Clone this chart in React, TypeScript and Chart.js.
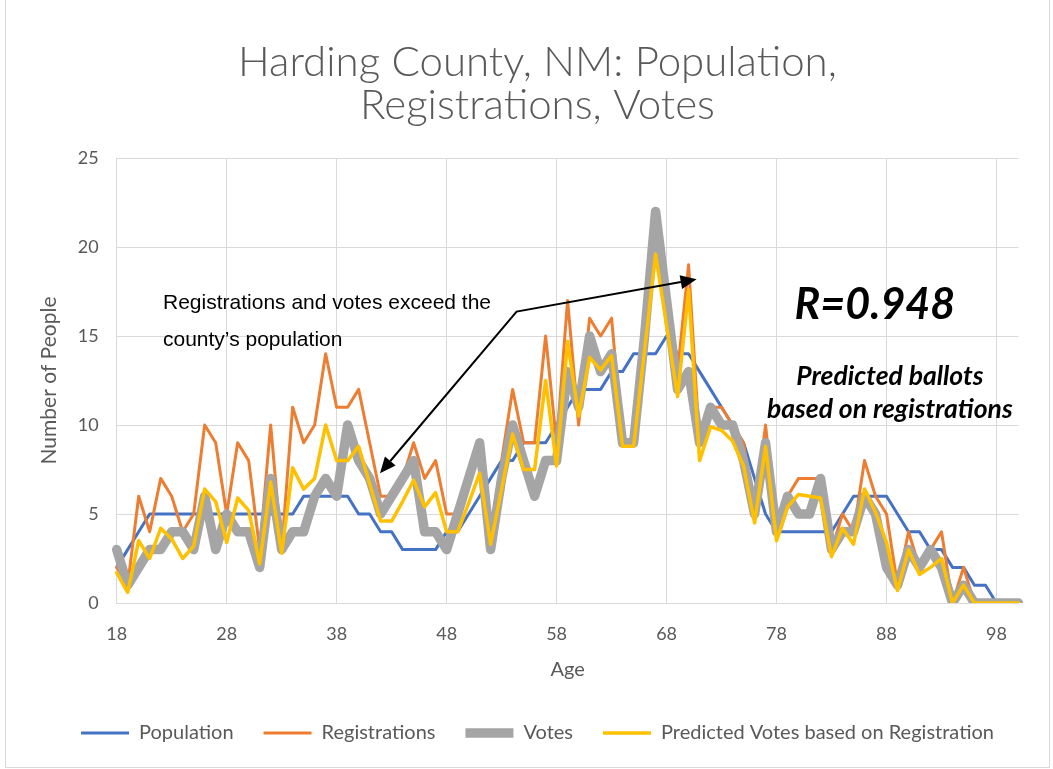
import React, { useEffect, useRef } from "react";
import { Chart, registerables } from "chart.js";

Chart.register(...registerables);

const ages = [
  "18", "19", "20", "21", "22", "23", "24", "25", "26", "27",
  "28", "29", "30", "31", "32", "33", "34", "35", "36", "37",
  "38", "39", "40", "41", "42", "43", "44", "45", "46", "47",
  "48", "49", "50", "51", "52", "53", "54", "55", "56", "57",
  "58", "59", "60", "61", "62", "63", "64", "65", "66", "67",
  "68", "69", "70", "71", "72", "73", "74", "75", "76", "77",
  "78", "79", "80", "81", "82", "83", "84", "85", "86", "87",
  "88", "89", "90", "91", "92", "93", "94", "95", "96", "97",
  "98", "99", "100",
];

const population = [
  2, 3, 4, 5, 5, 5, 5, 5, 5, 5,
  5, 5, 5, 5, 5, 5, 5, 6, 6, 6,
  6, 6, 5, 5, 4, 4, 3, 3, 3, 3,
  4, 4, 5, 6, 7, 8, 8, 9, 9, 9,
  10, 11, 12, 12, 12, 13, 13, 14, 14, 14,
  15, 14, 14, 13, 12, 11, 10, 9, 7, 5,
  4, 4, 4, 4, 4, 4, 5, 6, 6, 6,
  6, 5, 4, 4, 3, 3, 2, 2, 1, 1,
  0, 0, 0,
];

const registrations = [
  2, 1, 6, 4, 7, 6, 4, 5, 10, 9,
  5, 9, 8, 3, 10, 3, 11, 9, 10, 14,
  11, 11, 12, 9, 6, 6, 7, 9, 7, 8,
  5, 5, 7, 9, 4, 8, 12, 9, 9, 15,
  9, 17, 10, 16, 15, 16, 9, 9, 16, 22,
  18, 13, 19, 9, 11, 11, 10, 9, 5, 10,
  4, 6, 7, 7, 7, 3, 5, 4, 8, 6,
  5, 1, 4, 2, 3, 4, 0, 2, 0, 0,
  0, 0, 0,
];

const votes = [
  3, 1, 2, 3, 3, 4, 4, 3, 6, 3,
  5, 4, 4, 2, 7, 3, 4, 4, 6, 7,
  6, 10, 8, 7, 5, 6, 7, 8, 4, 4,
  3, 5, 7, 9, 3, 7, 10, 8, 6, 8,
  8, 13, 11, 15, 13, 14, 9, 9, 15, 22,
  17, 12, 13, 9, 11, 10, 10, 8, 5, 9,
  4, 6, 5, 5, 7, 3, 4, 4, 6, 5,
  2, 1, 3, 2, 3, 2, 0, 1, 0, 0,
  0, 0, 0,
];

const predicted = [
  1.7, 0.6, 3.5, 2.5, 4.2, 3.6, 2.5, 3.2, 6.4, 5.7,
  3.4, 5.9, 5.2, 2.2, 6.8, 2.8, 7.6, 6.4, 7.0, 10.0,
  8.0, 8.0, 8.8, 6.7, 4.6, 4.6, 5.7, 6.9, 5.4, 6.2,
  4.0, 4.0, 5.6, 7.3, 3.3, 6.4, 9.5, 7.5, 7.5, 12.5,
  7.7, 14.7, 10.5, 13.8, 13.1, 13.9, 8.8, 8.8, 14.2, 19.6,
  15.6, 11.6, 17.6, 8.0, 9.9, 9.7, 9.1, 7.7, 4.5, 8.8,
  3.5, 5.4, 6.1, 6.0, 5.9, 2.6, 4.2, 3.3, 6.4, 5.1,
  3.4, 0.7, 3.0, 1.6, 2.0, 2.5, 0, 1.0, 0, 0,
  0, 0, 0,
];

const titleLines = ["Harding County, NM: Population,", "Registrations, Votes"];
const noteLines = ["Registrations and votes exceed the", "county\u2019s population"];
const rText = "R=0.948";
const predictedNote = ["Predicted ballots", "based on registrations"];

const GREY_TEXT = "#595959";
const GRID = "#d9d9d9";

function drawArrowHead(ctx: CanvasRenderingContext2D, fx: number, fy: number, tx: number, ty: number) {
  const ang = Math.atan2(ty - fy, tx - fx);
  const len = 16;
  const hw = 7;
  const bx = tx - len * Math.cos(ang);
  const by = ty - len * Math.sin(ang);
  ctx.beginPath();
  ctx.moveTo(tx, ty);
  ctx.lineTo(bx + hw * Math.sin(ang), by - hw * Math.cos(ang));
  ctx.lineTo(bx - hw * Math.sin(ang), by + hw * Math.cos(ang));
  ctx.closePath();
  ctx.fill();
  return [bx, by];
}

const frameAndNotes = {
  id: "frameAndNotes",
  beforeDraw(chart: any) {
    const ctx = chart.ctx;
    ctx.save();
    ctx.fillStyle = "#ffffff";
    ctx.fillRect(0, 0, chart.width, chart.height);
    ctx.strokeStyle = GRID;
    ctx.lineWidth = 1;
    ctx.strokeRect(5.5, -5, 1044, 772.5);
    ctx.restore();
  },
  afterDatasetsDraw(chart: any) {
    const ctx = chart.ctx;
    const xs = chart.scales.x;
    const ys = chart.scales.y;
    const px = (i: number) => xs.getPixelForValue(i);
    const py = (v: number) => ys.getPixelForValue(v);
    ctx.save();

    // annotation text
    ctx.fillStyle = "#000000";
    ctx.font = "21px 'Liberation Sans', Arial, sans-serif";
    ctx.textAlign = "left";
    ctx.textBaseline = "middle";
    ctx.fillText(noteLines[0], px(4.21), py(16.85));
    ctx.fillText(noteLines[1], px(4.21), py(14.75));

    // double-headed arrow
    const a = [px(23.94), py(7.29)];
    const e = [px(36.36), py(16.37)];
    const b = [px(52.73), py(18.19)];
    ctx.strokeStyle = "#000000";
    ctx.fillStyle = "#000000";
    ctx.lineWidth = 2;
    const baseA = drawArrowHead(ctx, e[0], e[1], a[0], a[1]);
    const baseB = drawArrowHead(ctx, e[0], e[1], b[0], b[1]);
    ctx.beginPath();
    ctx.moveTo(baseA[0], baseA[1]);
    ctx.lineTo(e[0], e[1]);
    ctx.lineTo(baseB[0], baseB[1]);
    ctx.stroke();

    // R value and note
    ctx.textAlign = "center";
    ctx.font = "italic bold 43px Lato, sans-serif";
    ctx.fillText(rText, px(68.94), py(16.74));
    ctx.font = "italic bold 26.5px Lato, sans-serif";
    ctx.fillText(predictedNote[0], px(70.3), py(12.7));
    ctx.fillText(predictedNote[1], px(70.3), py(10.9));
    ctx.restore();
  },
};

export default function App() {
  const canvasRef = useRef<HTMLCanvasElement | null>(null);

  useEffect(() => {
    if (!canvasRef.current) return;
    Chart.defaults.font.family = "Lato, 'Open Sans', sans-serif";

    const common = {
      pointRadius: 0,
      pointHoverRadius: 0,
      tension: 0,
      fill: false,
      borderJoinStyle: "round" as const,
      borderCapStyle: "round" as const,
    };

    const chart = new Chart(canvasRef.current, {
      type: "line",
      data: {
        labels: ages,
        datasets: [
          { ...common, label: "Population", data: population, borderColor: "#4472C4", backgroundColor: "#4472C4", borderWidth: 3, order: 4 },
          { ...common, label: "Registrations", data: registrations, borderColor: "#ED7D31", backgroundColor: "#ED7D31", borderWidth: 3, order: 3 },
          { ...common, label: "Votes", data: votes, borderColor: "#A5A5A5", backgroundColor: "#A5A5A5", borderWidth: 9.5, order: 2 },
          { ...common, label: "Predicted Votes based on Registration", data: predicted, borderColor: "#FFC000", backgroundColor: "#FFC000", borderWidth: 3.5, order: 1 },
        ],
      },
      options: {
        responsive: false,
        devicePixelRatio: 1,
        animation: false,
        events: [],
        layout: { padding: { left: 32, right: 10, top: 0, bottom: 16 } },
        plugins: {
          title: {
            display: true,
            text: titleLines,
            color: GREY_TEXT,
            font: { family: "Lato, sans-serif", size: 42, weight: "300", lineHeight: "43px" },
            padding: { top: 40.5, bottom: 31.5 },
          },
          legend: {
            display: true,
            position: "bottom",
            labels: {
              usePointStyle: true,
              pointStyle: "line",
              pointStyleWidth: 48,
              color: GREY_TEXT,
              font: { size: 20 },
              padding: 30,
              sort: (a: any, b: any) => a.datasetIndex - b.datasetIndex,
            },
          },
          tooltip: { enabled: false },
        },
        scales: {
          x: {
            type: "category",
            offset: false,
            afterBuildTicks: (scale: any) => {
              scale.ticks = scale.ticks.filter((t: any) => t.value % 10 === 0);
            },
            afterFit: (scale: any) => {
              scale.height = 90;
            },
            ticks: { autoSkip: false, maxRotation: 0, minRotation: 0, color: GREY_TEXT, font: { size: 18 }, padding: 20 },
            grid: { color: GRID, lineWidth: 1, drawTicks: false },
            border: { color: GRID },
            title: { display: true, text: "Age", color: GREY_TEXT, font: { size: 20 }, padding: { top: 0, bottom: 11 } },
          },
          y: {
            type: "linear",
            position: "left",
            min: 0,
            max: 25,
            afterFit: (scale: any) => {
              scale.width = 84.7;
            },
            ticks: { stepSize: 5, color: GREY_TEXT, font: { size: 18 }, padding: 18 },
            grid: { color: GRID, lineWidth: 1, drawTicks: false },
            border: { color: GRID },
            title: { display: true, text: "Number of People", color: GREY_TEXT, font: { size: 21 }, padding: { top: 5, bottom: 0 } },
          },
          yRight: {
            type: "linear",
            position: "right",
            display: true,
            afterFit: (scale: any) => {
              scale.width = 24.5;
            },
            ticks: { display: false },
            grid: { display: false, drawOnChartArea: false },
            border: { display: false },
          },
        },
      },
      plugins: [frameAndNotes],
    } as any);

    return () => chart.destroy();
  }, []);

  return (
    <div style={{ position: "absolute", left: 0, top: 0, width: 1053, height: 769, background: "#fff" }}>
      <canvas ref={canvasRef} width={1053} height={769} style={{ display: "block" }} />
    </div>
  );
}
